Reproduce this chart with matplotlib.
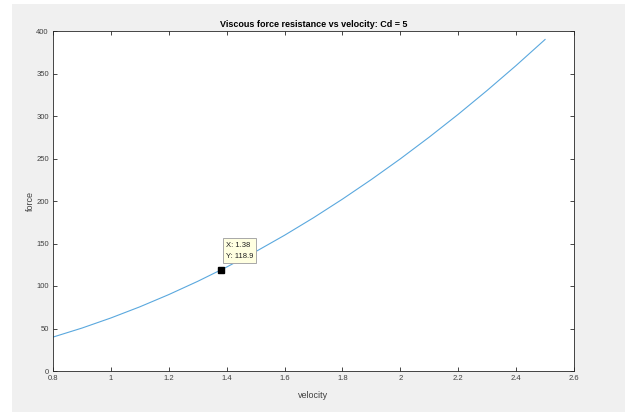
import matplotlib
matplotlib.use("Agg")
import matplotlib.pyplot as plt

velocity = [0.8, 0.9, 1.0, 1.1, 1.2, 1.3, 1.4, 1.5, 1.6, 1.7, 1.8, 1.9,
            2.0, 2.1, 2.2, 2.3, 2.4, 2.5]
force = [39.9, 50.5, 62.4, 75.5, 89.9, 105.5, 122.3, 140.4, 159.7, 180.3,
         202.2, 225.3, 249.6, 275.2, 302.0, 330.1, 359.4, 390.0]
tip_x = 1.38
tip_y = 118.9
xticks = [0.8, 1, 1.2, 1.4, 1.6, 1.8, 2, 2.2, 2.4, 2.6]
xticklabels = ["0.8", "1", "1.2", "1.4", "1.6", "1.8", "2", "2.2", "2.4", "2.6"]
yticks = [0, 50, 100, 150, 200, 250, 300, 350, 400]

plt.rcParams['font.family'] = ['Liberation Sans', 'DejaVu Sans']

fig = plt.figure(figsize=(6.25, 4.12), dpi=100, facecolor='white')
# gray figure panel
fig.patches.append(plt.Rectangle((12/625, 0), 1 - 12/625, 1 - 4/412,
                                 transform=fig.transFigure, facecolor='#f0f0f0',
                                 edgecolor='none', zorder=-10))
ax = fig.add_axes([53/625, 1 - 371/412, (574-53)/625, (371-31)/412])
ax.set_facecolor('white')
ax.plot(velocity, force, color='#5aa8de', lw=0.8)
ax.plot([tip_x], [tip_y], marker='s', color='black', ms=4, ls='none', zorder=5)
ax.annotate("X: 1.38\nY: 118.9", xy=(tip_x, tip_y), xytext=(3.5, 7.5),
            textcoords='offset points', fontsize=5.5, ha='left', va='bottom',
            linespacing=1.8, color='#202020',
            bbox=dict(boxstyle='square,pad=0.4', fc='#ffffe1', ec='#a8a8a8', lw=0.7))
ax.set_xlim(0.8, 2.6)
ax.set_ylim(0, 400)
ax.set_xticks(xticks)
ax.set_xticklabels(xticklabels)
ax.set_yticks(yticks)
ax.tick_params(direction='in', length=3, width=0.6, colors='#262626',
               labelsize=5.5, labelcolor='#404040', top=True, right=True, pad=3)
for s in ax.spines.values():
    s.set_color('#262626')
    s.set_linewidth(0.6)
ax.set_title("Viscous force resistance vs velocity: Cd = 5", fontsize=6.5,
             fontweight='bold', pad=3)
ax.set_xlabel("velocity", fontsize=6.5, color='#404040', labelpad=6)
ax.set_ylabel("force", fontsize=6.5, color='#404040', labelpad=1)
fig.savefig("out.png", dpi=100, facecolor=fig.get_facecolor())
